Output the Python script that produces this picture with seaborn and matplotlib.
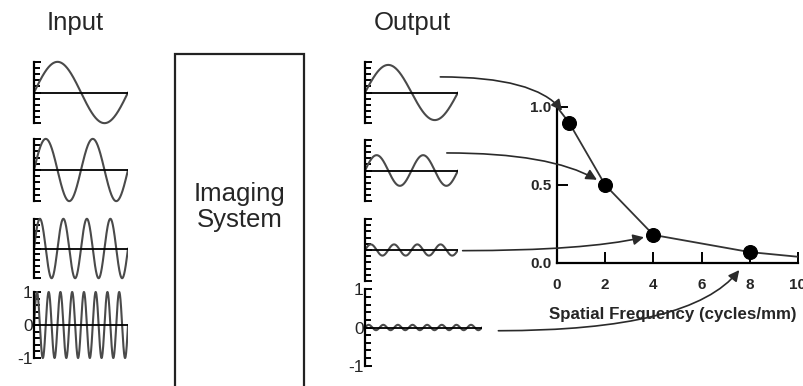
import numpy as np
import pandas as pd
import matplotlib
matplotlib.use("Agg")
import matplotlib.pyplot as plt
import seaborn as sns
from matplotlib.patches import Rectangle, ConnectionPatch
from matplotlib.ticker import MultipleLocator


# ==========================================
# DATA
# ==========================================

cycles = [1, 2, 4, 8]

input_amplitude = [1.0, 1.0, 1.0, 1.0]

spatial_frequency = [0.5, 2, 4, 8]

mtf_values = [0.9, 0.5, 0.18, 0.07]

curve_frequency = [0, 0.5, 2, 4, 8, 10]

curve_mtf = [1.0, 0.9, 0.5, 0.18, 0.07, 0.04]

freq_ticks = [0, 2, 4, 6, 8, 10]

mtf_ticks = [0.0, 0.5, 1.0]

mtf_tick_labels = ["0.0", "0.5", "1.0"]


# ==========================================
# LAYOUT (pixel boxes: left, top, right, bottom)
# ==========================================

W, H = 804, 386

input_boxes = [
    (34, 60, 128, 125),
    (34, 137, 128, 203),
    (34, 217, 128, 280),
    (34, 290, 128, 360),
]

output_boxes = [
    (365, 60, 458, 125),
    (365, 138, 458, 203),
    (365, 217, 458, 283),
    (365, 287, 482, 368),
]

mtf_box = (557, 107, 798, 263)

# arrow start (axes fraction of output panel), end angle and shrink (pt)
arrow_starts = [(0.81, 0.74), (0.88, 0.77), (1.05, 0.49), (1.14, 0.46)]
arrow_end_angles = [-68, -35, 15, 68]
arrow_shrink = [10, 7, 7, 15]


def px_box(box):
    left, top, right, bottom = box
    return [left / W, 1 - bottom / H, (right - left) / W, (bottom - top) / H]


sns.set_theme(style="white")
plt.rcParams["font.family"] = ["Liberation Sans", "DejaVu Sans"]
plt.rcParams["axes.unicode_minus"] = False

fig = plt.figure(figsize=(W / 100, H / 100), dpi=100)

wave_color = "#4a4a4a"


def draw_wave(box, n_cycles, amplitude, show_labels):
    ax = fig.add_axes(px_box(box))
    x = np.linspace(0, 1, 600)
    wave = pd.DataFrame({
        "x": x,
        "y": amplitude * np.sin(2 * np.pi * n_cycles * x)
    })
    sns.lineplot(data=wave, x="x", y="y", ax=ax, color=wave_color,
                 linewidth=1.5)
    ax.axhline(0, color="black", linewidth=1.3)
    ax.set_xlim(0, 1)
    ax.set_ylim(-1.06, 1.06)
    for side in ["top", "right", "bottom"]:
        ax.spines[side].set_visible(False)
    ax.spines["left"].set_bounds(-1, 1)
    ax.spines["left"].set_linewidth(1.6)
    ax.spines["left"].set_color("black")
    ax.set_xticks([])
    ax.yaxis.set_major_locator(MultipleLocator(1))
    ax.yaxis.set_minor_locator(MultipleLocator(0.2))
    ax.tick_params(axis="y", which="both", direction="in", left=True,
                   width=1.4, color="black")
    ax.tick_params(axis="y", which="major", length=5, pad=1,
                   labelsize=12.5, labelleft=show_labels)
    ax.tick_params(axis="y", which="minor", length=4)
    ax.set_xlabel("")
    ax.set_ylabel("")
    ax.patch.set_alpha(0)
    return ax


input_axes = []
output_axes = []

for i in range(len(cycles)):
    input_axes.append(
        draw_wave(input_boxes[i], cycles[i], input_amplitude[i],
                  i == len(cycles) - 1)
    )
    output_axes.append(
        draw_wave(output_boxes[i], cycles[i], mtf_values[i],
                  i == len(cycles) - 1)
    )


# ------------------------------------------
# IMAGING SYSTEM BOX
# ------------------------------------------

fig.patches.append(
    Rectangle((175 / W, -0.05), (304 - 175) / W, 1.05 - 54 / H,
              transform=fig.transFigure, fill=False,
              edgecolor="#222222", linewidth=1.6)
)

fig.text(240 / W, 1 - 207 / H, "Imaging\nSystem", ha="center",
         va="center", fontsize=18.5, linespacing=1.1)

fig.text(75 / W, 1 - 30 / H, "Input", ha="center", va="baseline",
         fontsize=18.5)

fig.text(412 / W, 1 - 30 / H, "Output", ha="center", va="baseline",
         fontsize=18.5)


# ------------------------------------------
# MTF CURVE
# ------------------------------------------

mtf_ax = fig.add_axes(px_box(mtf_box))

curve = pd.DataFrame({"frequency": curve_frequency, "mtf": curve_mtf})
points = pd.DataFrame({"frequency": spatial_frequency, "mtf": mtf_values})

sns.lineplot(data=curve, x="frequency", y="mtf", ax=mtf_ax,
             color="#333333", linewidth=1.3)
sns.scatterplot(data=points, x="frequency", y="mtf", ax=mtf_ax,
                color="black", s=100, edgecolor="black", zorder=5,
                clip_on=False)

mtf_ax.set_xlim(0, 10)
mtf_ax.set_ylim(0, 1.0)
mtf_ax.set_xticks(freq_ticks)
mtf_ax.set_yticks(mtf_ticks)
mtf_ax.set_yticklabels(mtf_tick_labels)
for side in ["top", "right"]:
    mtf_ax.spines[side].set_visible(False)
for side in ["left", "bottom"]:
    mtf_ax.spines[side].set_linewidth(1.6)
    mtf_ax.spines[side].set_color("black")
mtf_ax.tick_params(direction="in", length=8, width=1.4, color="black",
                   labelsize=11, bottom=True, left=True)
mtf_ax.tick_params(axis="x", pad=11)
mtf_ax.tick_params(axis="y", pad=4)
for label in mtf_ax.get_xticklabels() + mtf_ax.get_yticklabels():
    label.set_fontweight("bold")
mtf_ax.set_xlabel("Spatial Frequency (cycles/mm)", fontsize=12.2,
                  fontweight="bold")
mtf_ax.xaxis.set_label_coords(0.48, -0.28)
mtf_ax.set_ylabel("")
mtf_ax.patch.set_alpha(0)


# ------------------------------------------
# ARROWS FROM OUTPUT WAVES TO MTF POINTS
# ------------------------------------------

for i in range(len(cycles)):
    arrow = ConnectionPatch(
        xyA=arrow_starts[i], coordsA=output_axes[i].transAxes,
        xyB=(spatial_frequency[i], mtf_values[i]), coordsB=mtf_ax.transData,
        arrowstyle="-|>", mutation_scale=16, shrinkB=arrow_shrink[i],
        connectionstyle=f"angle3,angleA=0,angleB={arrow_end_angles[i]}",
        color="#2a2a2a", linewidth=1.2, zorder=6
    )
    fig.add_artist(arrow)

plt.savefig("out.png", dpi=100)
plt.close()
